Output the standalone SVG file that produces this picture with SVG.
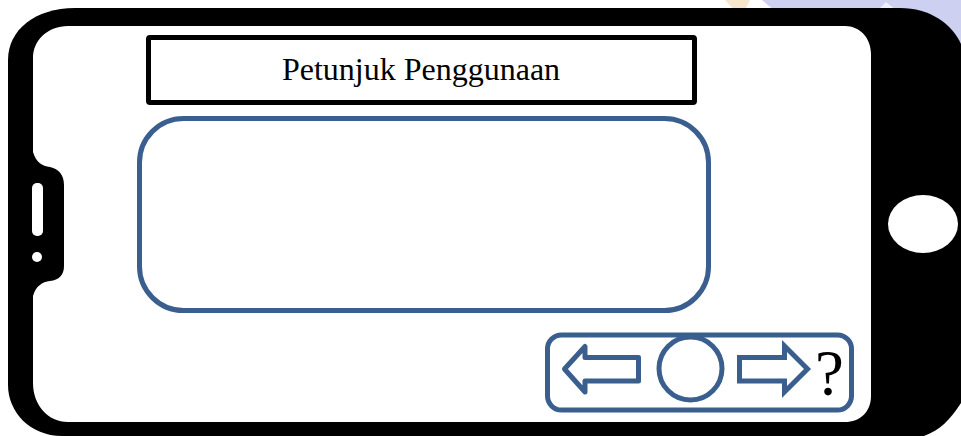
<svg xmlns="http://www.w3.org/2000/svg" width="961" height="436" viewBox="0 0 961 436">
<style>
.blue{fill:#fff;stroke:#3a5f8f;stroke-width:5}
.t{font-family:"Liberation Serif","Times New Roman",serif;fill:#000}
</style>
<rect width="961" height="436" fill="#fff"/>
<path d="M762 0H961V50L900 12H776Z" fill="#cdd0f0"/>
<path d="M725 0H750L745 10H734Z" fill="#f8e6cc"/>
<path d="M878 10L886 2L896 10Z" fill="#eef0fb"/>
<g id="phone">
<path d="M75 8H900C930 8 952 24 961 44V403C950 420 940 430 924 436H62C30 436 8 412 8 385V60C8 30 35 8 75 8Z" fill="#000"/>
<path d="M68 26H845C860 26 871 38 871 54V396C871 412 860 422 845 422H68C48 422 33 405 33 383V296C36 286 42 282 50 281C59 280 64 275 64 266V185C64 175 59 169 50 167C42 166 36 162 33 152V58C33 40 48 26 68 26Z" fill="#fff"/>
<rect x="32" y="183" width="11" height="53" rx="5" fill="#fff"/>
<circle cx="37" cy="257" r="5" fill="#fff"/>
<ellipse cx="923" cy="224" rx="35" ry="29" fill="#fff"/>
</g>
<g id="title">
<rect x="148.500" y="37.500" width="546" height="65" rx="1.500" fill="#fff" stroke="#000" stroke-width="5"/>
<text class="t" x="421" y="80" font-size="32" text-anchor="middle">Petunjuk Penggunaan</text>
</g>
<g id="content">
<rect class="blue" x="139.500" y="118.500" width="569" height="192" rx="44"/>
</g>
<g id="nav">
<rect class="blue" x="547.500" y="335" width="304" height="75" rx="14"/>
<path id="back" class="blue" stroke-linejoin="round" d="M564.500 369L585 346.500V357.500H638.500V381H585V392Z"/>
<circle id="home" class="blue" cx="690.500" cy="368.500" r="31.500"/>
<path id="next" class="blue" d="M739.500 357.500H784.500V346L807.500 369L784.500 392V381H739.500Z"/>
<text id="help" class="t" x="815" y="395" font-size="65">?</text>
</g>
</svg>
